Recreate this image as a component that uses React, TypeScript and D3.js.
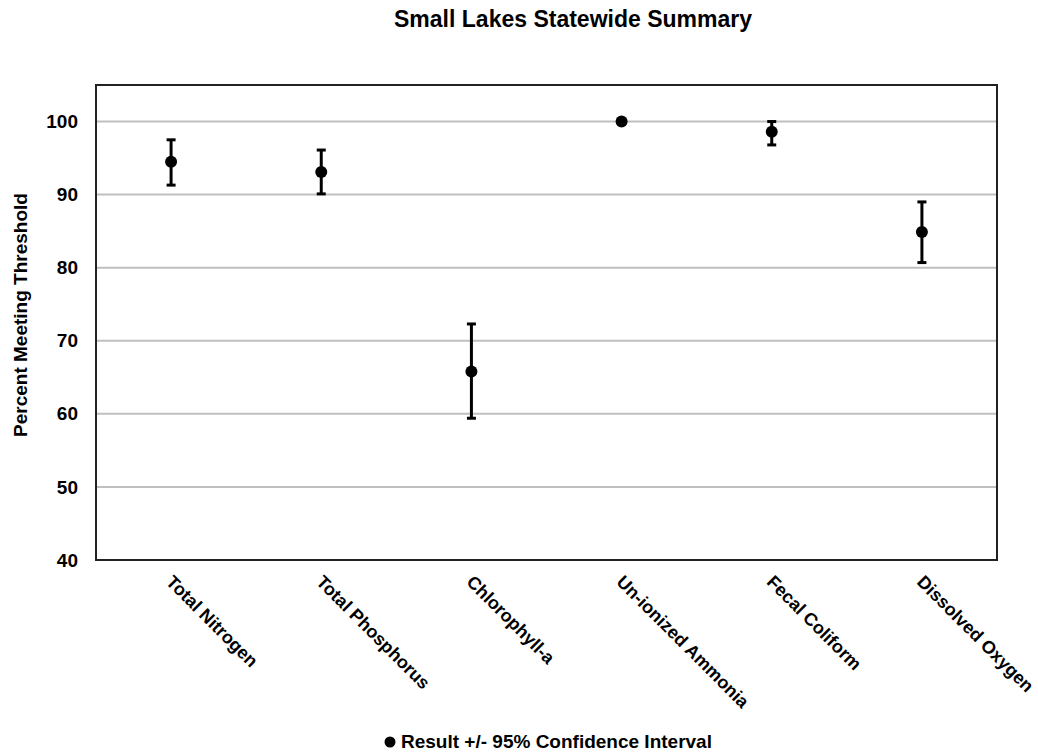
import React from "react";
import { scaleBand, scaleLinear } from "d3";

const categories = ["Total Nitrogen", "Total Phosphorus", "Chlorophyll-a", "Un-ionized Ammonia", "Fecal Coliform", "Dissolved Oxygen"];
const results = [94.5, 93.1, 65.8, 100, 98.6, 84.9];
const lower = [91.3, 90.1, 59.4, 100, 96.8, 80.7];
const upper = [97.5, 96.1, 72.3, 100, 100, 89.0];
const yTicks = [40, 50, 60, 70, 80, 90, 100];

const W = 1038;
const H = 755;
const margin = { left: 96, right: 41, top: 85, bottom: 195 };
const font = "Arial, 'Liberation Sans', sans-serif";

export default function App() {
    const x = scaleBand().domain(categories).range([margin.left, W - margin.right]);
    const y = scaleLinear().domain([40, 105]).range([H - margin.bottom, margin.top]);
    const bottom = H - margin.bottom;
    return (
        <svg width={W} height={H} style={{ position: "absolute", left: 0, top: 0 }} fontFamily={font}>
            <text x={573} y={27} textAnchor="middle" fontSize={23} fontWeight="bold">Small Lakes Statewide Summary</text>
            {yTicks.slice(1).map(t => (
                <line key={t} x1={margin.left} x2={W - margin.right} y1={y(t)} y2={y(t)} stroke="#bfbfbf" strokeWidth={2} />
            ))}
            <rect x={margin.left} y={margin.top} width={W - margin.left - margin.right} height={bottom - margin.top} fill="none" stroke="#222" strokeWidth={2} />
            {yTicks.map(t => (
                <text key={t} x={78} y={y(t)} dy="0.35em" textAnchor="end" fontSize={19} fontWeight="bold">{t}</text>
            ))}
            <text transform={`translate(27,${315}) rotate(-90)`} textAnchor="middle" fontSize={19} fontWeight="bold">Percent Meeting Threshold</text>
            {categories.map((c, i) => {
                const cx = (x(c) as number) + x.bandwidth() / 2;
                const hasBar = upper[i] !== lower[i];
                return (
                    <g key={c}>
                        {hasBar && (
                            <g stroke="#000" strokeWidth={3}>
                                <line x1={cx} x2={cx} y1={y(upper[i])} y2={y(lower[i])} />
                                <line x1={cx - 4.5} x2={cx + 4.5} y1={y(upper[i])} y2={y(upper[i])} />
                                <line x1={cx - 4.5} x2={cx + 4.5} y1={y(lower[i])} y2={y(lower[i])} />
                            </g>
                        )}
                        <circle cx={cx} cy={y(results[i])} r={6} fill="#000" />
                        <text transform={`translate(${cx - 6},${bottom + 23}) rotate(45)`} fontSize={18} fontWeight="bold">{c}</text>
                    </g>
                );
            })}
            <circle cx={390} cy={742} r={5.5} fill="#000" />
            <text x={401} y={748} fontSize={19} fontWeight="bold">Result +/- 95% Confidence Interval</text>
        </svg>
    );
}
